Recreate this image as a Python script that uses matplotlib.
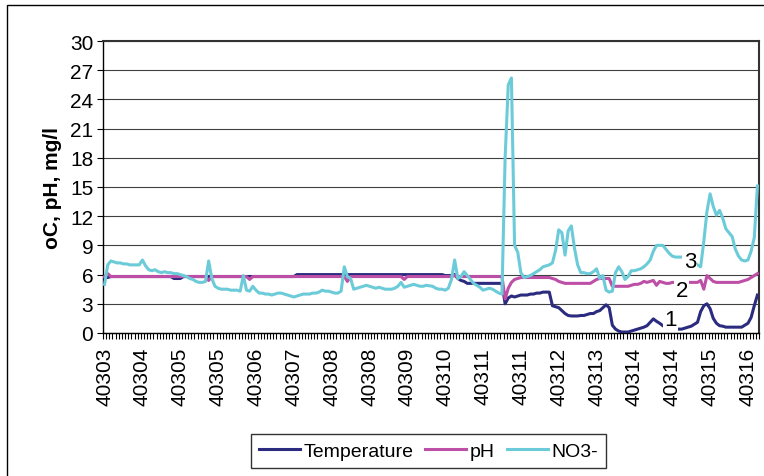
import matplotlib
matplotlib.use("Agg")
import matplotlib.pyplot as plt
from matplotlib.patches import Rectangle
import numpy as np

plt.rcParams["font.family"] = ["Liberation Sans", "DejaVu Sans"]

# -----------------------------------------------------------------------------
# Data
# -----------------------------------------------------------------------------

no3 = [
    5.0, 7.0, 7.4, 7.3, 7.2, 7.2, 7.1, 7.1, 7.0, 7.0,
    7.0, 7.0, 7.5, 6.9, 6.5, 6.4, 6.5, 6.3, 6.2, 6.3,
    6.2, 6.2, 6.1, 6.1, 6.0, 5.9, 5.8, 5.6, 5.5, 5.3,
    5.2, 5.2, 5.3, 7.4, 5.6, 4.8, 4.6, 4.5, 4.5, 4.5,
    4.4, 4.4, 4.4, 4.3, 5.9, 4.4, 4.3, 4.8, 4.4,
    4.1, 4.1, 4.0, 4.0, 3.9, 4.0, 4.1, 4.1, 4.0, 3.9,
    3.8, 3.7, 3.8, 3.9, 4.0, 4.0, 4.0, 4.1, 4.1, 4.2,
    4.4, 4.3, 4.3, 4.2, 4.1, 4.1, 4.3, 6.8, 5.8, 5.6,
    4.5, 4.6, 4.7, 4.8, 4.9, 4.8, 4.7, 4.6, 4.7, 4.6,
    4.5, 4.5, 4.5, 4.6, 4.8, 5.2, 4.7, 4.8, 4.9, 5.0,
    4.9, 4.8, 4.8, 4.9, 4.85, 4.8, 4.6, 4.5, 4.5, 4.4,
    4.6, 5.5, 7.5, 5.6, 5.8, 6.3, 5.9, 5.5, 5.1, 4.9,
    4.7, 4.4, 4.5, 4.6, 4.5, 4.3, 4.1, 4.0, 18.0, 25.5,
    26.2, 9.0, 8.3, 6.2, 5.7, 5.8, 5.9, 6.1, 6.3, 6.5,
    6.8, 6.9, 7.0, 7.2, 8.5, 10.6, 10.3, 8.0, 10.5, 11.0,
    8.7, 7.0, 6.2, 6.2, 6.1, 6.1, 6.3, 6.6, 5.6, 5.9,
    4.4, 4.2, 4.3, 6.2, 6.8, 6.3, 5.5, 5.8, 6.4, 6.4,
    6.5, 6.6, 6.8, 7.1, 7.5, 8.4, 9.0, 9.0, 9.0,
    8.6, 8.2, 7.9, 7.8, 7.8, 7.8, 7.7, 7.6, 7.4, 7.2,
    7.0, 6.8, 9.4, 12.5, 14.3, 13.0, 12.1, 12.6, 11.8, 10.7,
    10.3, 9.9, 8.6, 7.9, 7.5, 7.4, 7.5, 8.4, 9.8, 15.1,
]

ph = [
    5.8, 6.1, 5.8, 5.8, 5.8, 5.8, 5.8, 5.8, 5.8, 5.8,
    5.8, 5.8, 5.8, 5.8, 5.8, 5.8, 5.8, 5.8, 5.8, 5.8,
    5.8, 5.8, 5.8, 5.8, 5.8, 5.8, 5.8, 5.8, 5.8, 5.8,
    5.8, 5.8, 5.8, 5.4, 5.8, 5.8, 5.8, 5.8, 5.8, 5.8,
    5.8, 5.8, 5.8, 5.8, 5.8, 5.8, 5.5, 5.8, 5.8,
    5.8, 5.8, 5.8, 5.8, 5.8, 5.8, 5.8, 5.8, 5.8, 5.8,
    5.8, 5.8, 5.8, 5.8, 5.8, 5.8, 5.8, 5.8, 5.8, 5.8,
    5.8, 5.8, 5.8, 5.8, 5.8, 5.8, 5.8, 5.8, 5.3, 5.8,
    5.8, 5.8, 5.8, 5.8, 5.8, 5.8, 5.8, 5.8, 5.8, 5.8,
    5.8, 5.8, 5.8, 5.8, 5.8, 5.8, 5.5, 5.8, 5.8, 5.8,
    5.8, 5.8, 5.8, 5.8, 5.8, 5.8, 5.8, 5.8, 5.8, 5.8,
    5.8, 5.8, 5.9, 5.8, 5.8, 5.8, 5.8, 5.8, 5.8, 5.8,
    5.8, 5.8, 5.8, 5.8, 5.8, 5.8, 5.8, 5.8, 3.5, 4.6,
    5.2, 5.5, 5.6, 5.7, 5.7, 5.7, 5.7, 5.7, 5.7, 5.7,
    5.7, 5.7, 5.7, 5.6, 5.5, 5.3, 5.2, 5.1, 5.1, 5.1,
    5.1, 5.1, 5.1, 5.1, 5.1, 5.1, 5.3, 5.5, 5.6, 5.6,
    5.6, 5.6, 4.8, 4.8, 4.8, 4.8, 4.8, 4.8, 4.9, 5.0,
    5.0, 5.1, 5.3, 5.2, 5.3, 5.4, 4.9, 5.3, 5.2,
    5.1, 5.1, 5.2, 5.2, 5.2, 5.2, 5.2, 5.2, 5.2, 5.2,
    5.2, 5.4, 4.5, 5.9, 5.6, 5.3, 5.2, 5.2, 5.2, 5.2,
    5.2, 5.2, 5.2, 5.2, 5.3, 5.4, 5.5, 5.7, 5.9, 6.1,
]

temperature = [
    5.7, 5.7, 5.8, 5.8, 5.8, 5.8, 5.8, 5.8, 5.8, 5.8,
    5.8, 5.8, 5.8, 5.8, 5.8, 5.8, 5.8, 5.8, 5.8, 5.8,
    5.8, 5.8, 5.6, 5.6, 5.6, 5.8, 5.8, 5.8, 5.8, 5.8,
    5.8, 5.8, 5.8, 5.8, 5.8, 5.8, 5.8, 5.8, 5.8, 5.8,
    5.8, 5.8, 5.8, 5.8, 5.8, 5.8, 5.8, 5.8, 5.8,
    5.8, 5.8, 5.8, 5.8, 5.8, 5.8, 5.8, 5.8, 5.8, 5.8,
    5.8, 5.8, 6.0, 6.0, 6.0, 6.0, 6.0, 6.0, 6.0, 6.0,
    6.0, 6.0, 6.0, 6.0, 6.0, 6.0, 6.0, 6.0, 6.0, 6.0,
    6.0, 6.0, 6.0, 6.0, 6.0, 6.0, 6.0, 6.0, 6.0, 6.0,
    6.0, 6.0, 6.0, 6.0, 6.0, 6.0, 6.0, 6.0, 6.0, 6.0,
    6.0, 6.0, 6.0, 6.0, 6.0, 6.0, 6.0, 6.0, 6.0, 5.9,
    5.9, 5.9, 6.0, 5.6, 5.4, 5.3, 5.1, 5.1, 5.1, 5.1,
    5.1, 5.1, 5.1, 5.1, 5.1, 5.1, 5.1, 5.1, 3.0, 3.6,
    3.8, 3.7, 3.8, 3.9, 3.9, 3.9, 4.0, 4.0, 4.1, 4.1,
    4.2, 4.2, 4.2, 2.8, 2.7, 2.6, 2.3, 2.0, 1.8, 1.75,
    1.75, 1.75, 1.8, 1.8, 1.9, 2.0, 2.0, 2.2, 2.3, 2.6,
    2.9, 2.6, 0.8, 0.4, 0.2, 0.1, 0.1, 0.1, 0.2, 0.3,
    0.4, 0.5, 0.6, 0.75, 1.1, 1.45, 1.2, 1.0, 0.75,
    0.6, 0.5, 0.4, 0.4, 0.4, 0.4, 0.5, 0.6, 0.7, 0.9,
    1.1, 2.2, 2.8, 3.0, 2.5, 1.5, 1.0, 0.75, 0.7, 0.6,
    0.6, 0.6, 0.6, 0.6, 0.6, 0.8, 1.0, 1.6, 2.8, 3.9,
]

tick_labels = [
    "40303", "40304", "40305", "40305", "40306", "40307", "40308", "40308", "40309",
    "40310", "40311", "40311", "40312", "40313", "40314", "40314", "40315", "40316",
]
label_step = 12

# series tags drawn on the right ("1", "2", "3"): (text, category index, baseline value)
tags = [("1", 179.5, 0.85), ("2", 183.0, 3.85), ("3", 185.6, 6.75)]

# -----------------------------------------------------------------------------
# Plot
# -----------------------------------------------------------------------------

n = len(no3)
x = np.arange(n)

fig = plt.figure(figsize=(7.64, 4.77), dpi=100)
ax = fig.add_axes([103 / 764, 1 - 334 / 477, 656 / 764, 292 / 477])

ax.plot(x, temperature, color="#2B2B80", lw=2.2, label="Temperature", zorder=3)
ax.plot(x, ph, color="#BD4FA6", lw=2.2, label="pH", zorder=4)
ax.plot(x, no3, color="#6CCBD8", lw=2.2, label="NO3-", zorder=5)

for txt, xi, yi in tags:
    ax.text(xi, yi, txt, fontsize=16, ha="center", va="baseline", zorder=6,
            bbox=dict(facecolor="white", edgecolor="none", pad=1.0))

ax.set_xlim(-0.5, n - 0.5)
ax.set_ylim(0, 30)
ax.set_yticks(np.arange(0, 31, 3))
ax.tick_params(axis="y", labelsize=15, direction="out", length=4, width=0.8, pad=3)
ax.yaxis.grid(True, color="#404040", lw=0.8)
ax.set_axisbelow(True)

ax.set_xticks(np.arange(0, label_step * len(tick_labels), label_step))
ax.set_xticklabels(tick_labels, rotation=90, fontsize=15)
ax.set_xticks(np.arange(n + 1) - 0.5, minor=True)
ax.tick_params(axis="x", which="major", length=0, pad=10)
ax.tick_params(axis="x", which="minor", length=4, width=0.8, direction="out")

for side in ["left", "bottom"]:
    ax.spines[side].set_linewidth(1.0)
    ax.spines[side].set_color("black")
for side in ["top", "right"]:
    ax.spines[side].set_linewidth(1.5)
    ax.spines[side].set_color("#333333")

ax.set_ylabel("oC, pH, mg/l", fontsize=15, fontweight="bold", labelpad=6)

fig.legend(
    loc="center",
    bbox_to_anchor=(428.5 / 764, 1 - 452 / 477),
    ncol=3,
    fontsize=14,
    frameon=True,
    fancybox=False,
    edgecolor="black",
    handlelength=2.1,
    handletextpad=0.2,
    columnspacing=0.6,
    borderpad=0.4,
)

# outer chart border (cut off at right and bottom in the reference)
fig.patches.append(
    Rectangle((7 / 764, -0.1), 1.2, 1.1 - 6 / 477, transform=fig.transFigure,
              fill=False, edgecolor="black", lw=1.0)
)

fig.savefig("out.png", dpi=100)
